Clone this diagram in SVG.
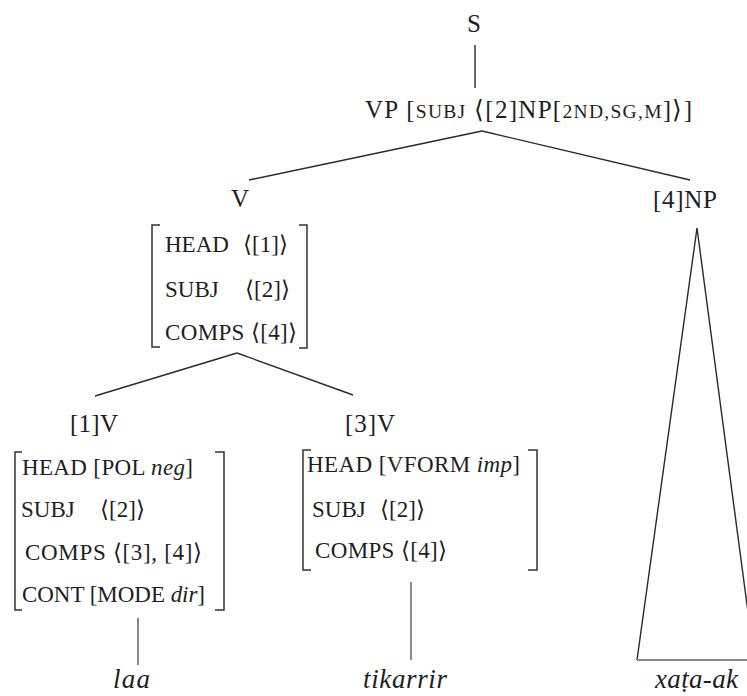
<svg xmlns="http://www.w3.org/2000/svg" width="747" height="696" viewBox="0 0 747 696">
<style>
text{font-family:"Liberation Serif","Times New Roman",serif;fill:#1e1e1e}
.lab{font-size:25px}
.m{font-size:23px}
.sc{font-size:19.5px}
.it{font-style:italic}
.w{font-size:27px;font-style:italic}
.ln{stroke:#2a2a2a;stroke-width:1.4;fill:none}
.gl{stroke:#8a8a8a;stroke-width:2;fill:none}
.br{stroke:#333;stroke-width:1.5;fill:none}
</style>
<rect width="747" height="696" fill="#fff"/>
<g id="connectors">
<line class="ln" x1="475" y1="45" x2="475" y2="88"/>
<line class="ln" x1="482" y1="131" x2="249" y2="180"/>
<line class="ln" x1="482" y1="131" x2="690" y2="180"/>
<line class="ln" x1="237" y1="353" x2="95" y2="396"/>
<line class="ln" x1="237" y1="353" x2="353" y2="395"/>
<line class="gl" x1="138" y1="618" x2="138" y2="665"/>
<line class="gl" x1="411" y1="582" x2="411" y2="660"/>
<path class="ln" d="M637 660 L697 228 L755 665"/>
<line class="gl" x1="637" y1="660" x2="747" y2="660"/>
</g>
<g id="node-S"><text class="lab" x="474" y="32" text-anchor="middle">S</text></g>
<g id="node-VP"><text class="lab" x="365" y="118" textLength="327" lengthAdjust="spacing">VP [<tspan class="sc">SUBJ</tspan> ⟨[2]NP[<tspan class="sc">2ND,SG,M</tspan>]⟩]</text></g>
<g id="node-V">
<text class="lab" x="240" y="207" text-anchor="middle">V</text>
<path class="br" d="M160 225 H152 V347 H160"/>
<path class="br" d="M299 225 H307 V348 H299"/>
<text class="m" x="165" y="252">HEAD</text><text class="m" x="243" y="252">⟨[1]⟩</text>
<text class="m" x="165" y="297">SUBJ</text><text class="m" x="245" y="297">⟨[2]⟩</text>
<text class="m" x="165" y="340" textLength="132" lengthAdjust="spacing">COMPS ⟨[4]⟩</text>
</g>
<g id="node-NP4"><text class="lab" x="653" y="208" textLength="64" lengthAdjust="spacing">[4]NP</text></g>
<g id="node-V1">
<text class="lab" x="70" y="432" textLength="48" lengthAdjust="spacing">[1]V</text>
<path class="br" d="M22 452 H15 V610 H22"/>
<path class="br" d="M215 452 H224 V610 H215"/>
<text class="m" x="22" y="475" textLength="171" lengthAdjust="spacing">HEAD [POL <tspan class="it">neg</tspan>]</text>
<text class="m" x="21" y="517">SUBJ</text><text class="m" x="100" y="517">⟨[2]⟩</text>
<text class="m" x="25" y="560" textLength="177" lengthAdjust="spacing">COMPS ⟨[3], [4]⟩</text>
<text class="m" x="22" y="602" textLength="183" lengthAdjust="spacing">CONT [MODE <tspan class="it">dir</tspan>]</text>
</g>
<g id="node-V3">
<text class="lab" x="345" y="432" textLength="50" lengthAdjust="spacing">[3]V</text>
<path class="br" d="M311 450 H303 V570 H311"/>
<path class="br" d="M528 450 H537 V570 H528"/>
<text class="m" x="307" y="472" textLength="213" lengthAdjust="spacing">HEAD [VFORM <tspan class="it">imp</tspan>]</text>
<text class="m" x="312" y="517">SUBJ</text><text class="m" x="380" y="517">⟨[2]⟩</text>
<text class="m" x="315" y="558" textLength="132" lengthAdjust="spacing">COMPS ⟨[4]⟩</text>
</g>
<g id="node-laa"><text class="w" x="113" y="688" textLength="37" lengthAdjust="spacing">laa</text></g>
<g id="node-tikarrir"><text class="w" x="363" y="688" textLength="84" lengthAdjust="spacing">tikarrir</text></g>
<g id="node-xataak"><text class="w" x="655" y="688" textLength="83" lengthAdjust="spacing">xaṭa-ak</text></g>
</svg>
